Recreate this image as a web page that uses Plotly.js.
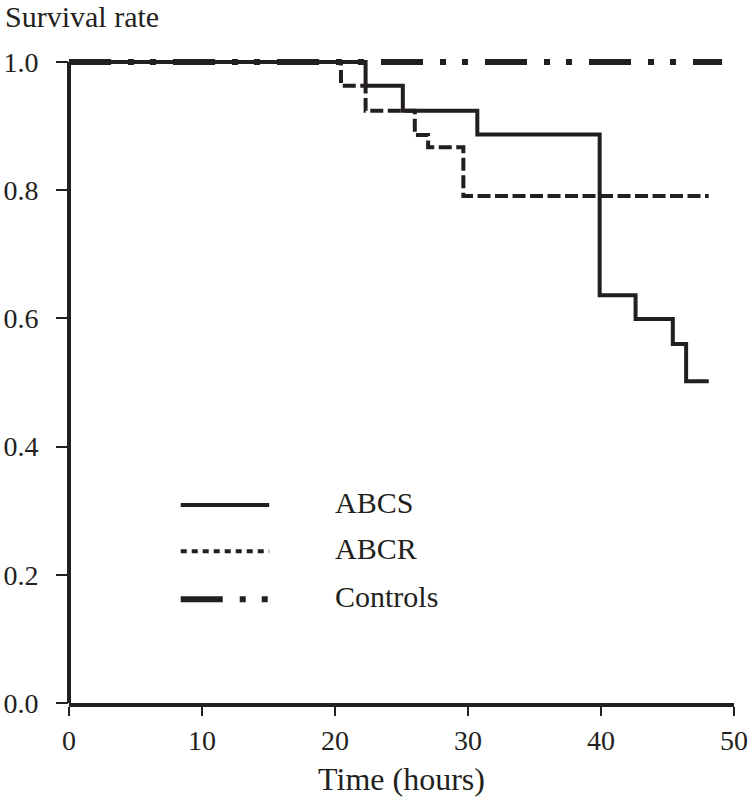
<!DOCTYPE html>
<html>
<head>
<meta charset="utf-8">
<script src="https://cdn.plot.ly/plotly-3.0.1.min.js"></script>
<style>html,body{margin:0;padding:0;background:#fff;}#chart{width:750px;height:807px;}</style>
</head>
<body>
<div id="chart"></div>
<script>
// Kaplan-Meier survival data
const seriesNames = ['ABCS', 'ABCR', 'Controls'];

const abcsTime = [0, 22.3, 25.1, 30.7, 39.9, 42.6, 45.4, 46.4, 48.1];
const abcsSurv = [1.0, 0.963, 0.924, 0.887, 0.636, 0.599, 0.560, 0.502, 0.502];

const abcrTime = [0, 20.45, 22.3, 26.0, 27.0, 29.65, 48.1];
const abcrSurv = [1.0, 0.963, 0.924, 0.886, 0.867, 0.791, 0.791];

const controlsTime = [0, 49.1];
const controlsSurv = [1.0, 1.0];

const xTicks = [0, 10, 20, 30, 40, 50];
const yTicks = [0, 0.2, 0.4, 0.6, 0.8, 1.0];
const yTickText = ['0.0', '0.2', '0.4', '0.6', '0.8', '1.0'];

const ink = '#231f20';
const font = 'Liberation Serif, Times New Roman, serif';

const dashStyles = {
  ABCS: 'solid',
  ABCR: '13px,4.5px',
  Controls: '42px,17px,6px,16px,6px,17px'
};
const lineWidths = { ABCS: 4, ABCR: 4, Controls: 6 };

const traces = [
  { x: controlsTime, y: controlsSurv, name: seriesNames[2] },
  { x: abcrTime, y: abcrSurv, name: seriesNames[1] },
  { x: abcsTime, y: abcsSurv, name: seriesNames[0] }
].map(t => ({
  type: 'scatter', mode: 'lines', x: t.x, y: t.y, name: t.name,
  line: { shape: 'hv', color: ink, width: lineWidths[t.name], dash: dashStyles[t.name] },
  hoverinfo: 'x+y+name', showlegend: false
}));

// legend drawn as layout decoration
const legendY = [0.305, 0.234, 0.160];
const shapes = [
  { type: 'line', xref: 'paper', yref: 'y', x0: 0, x1: 0, y0: 0, y1: 1, line: { color: ink, width: 4 } }
];
const annotations = [
  { xref: 'paper', yref: 'paper', x: -0.099, y: 1.058, xanchor: 'left', yanchor: 'middle',
    text: 'Survival rate', showarrow: false, font: { family: font, size: 30, color: ink } }
];
seriesNames.forEach((n, i) => {
  shapes.push({ type: 'line', xref: 'paper', yref: 'paper', x0: 0.168, x1: 0.301, y0: legendY[i], y1: legendY[i],
    line: { color: ink, width: n === 'Controls' ? 6 : 4, dash: n === 'ABCR' ? '6px,5px' : dashStyles[n] } });
  annotations.push({ xref: 'paper', yref: 'paper', x: 0.397, y: legendY[i] + 0.004, xanchor: 'left', yanchor: 'middle',
    text: n, showarrow: false, font: { family: font, size: 30, color: ink } });
});

const layout = {
  width: 750, height: 807,
  margin: { l: 69, r: 16, t: 54, b: 104 },
  paper_bgcolor: '#fff', plot_bgcolor: '#fff',
  font: { family: font, color: ink },
  showlegend: false,
  xaxis: {
    range: [0, 50], tickvals: xTicks, ticks: 'outside', ticklen: 9, tickwidth: 2, tickcolor: ink,
    showline: true, linewidth: 4, linecolor: ink, showgrid: false, zeroline: false,
    tickfont: { family: font, size: 28, color: ink },
    title: { text: 'Time (hours)', font: { family: font, size: 32, color: ink }, standoff: 14 }
  },
  yaxis: {
    range: [0, 1.0125], tickvals: yTicks, ticktext: yTickText, ticks: 'outside', ticklen: 12, tickwidth: 2, tickcolor: ink,
    showline: false, showgrid: false, zeroline: false, ticklabelstandoff: 12,
    tickfont: { family: font, size: 28, color: ink }
  },
  shapes: shapes,
  annotations: annotations
};

Plotly.newPlot('chart', traces, layout, { displayModeBar: false, staticPlot: true });
</script>
</body>
</html>
